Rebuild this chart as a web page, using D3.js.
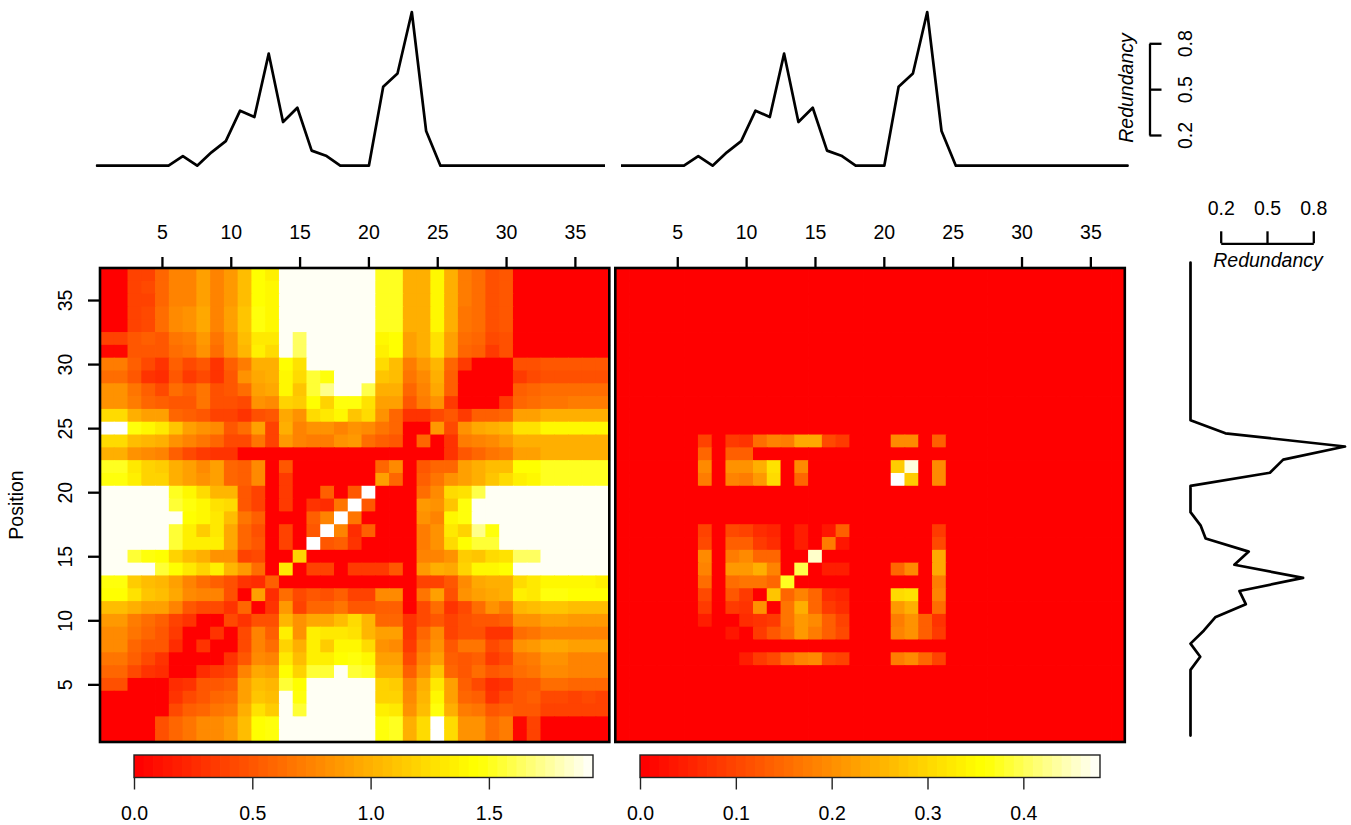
<!DOCTYPE html>
<html>
<head>
<meta charset="utf-8">
<script src="https://cdn.jsdelivr.net/npm/d3@7"></script>
<style>
  body { margin: 0; background: #fff; }
  text { font-family: "Liberation Sans", Arial, sans-serif; fill: #000; }
</style>
</head>
<body>
<div id="chart"></div>
<script>
const P = 1.98; // top of the colour range, the pale plateaus
const W = 2.1;  // above the range, left white

// left map, symmetric: rows 37 down to 1, columns 1..row
const leftRows = [
  [0,0,.40,.40,.62,.76,.76,.93,.76,.90,1.12,1.48,1.40,P,P,P,P,P,P,P,1.55,1.55,1.02,1.02,1.45,1.02,.72,.65,.47,.50,0,0,0,0,0,0,0],
  [0,0,.40,.42,.62,.76,.78,.95,.76,.90,1.12,1.48,1.42,P,P,P,P,P,P,P,1.55,1.55,1.02,1.02,1.45,1.02,.72,.65,.47,.50,0,0,0,0,0,0],
  [0,0,.38,.40,.62,.76,.76,.93,.76,.90,1.12,1.48,1.42,P,P,P,P,P,P,P,1.55,1.55,1.02,1.02,1.45,1.02,.72,.65,.47,.50,0,0,0,0,0],
  [0,0,.38,.42,.66,.80,.85,.96,.76,.92,1.14,1.50,1.42,P,P,P,P,P,P,P,1.55,1.55,1.02,1.02,1.45,1.02,.70,.65,.47,.50,0,0,0,0],
  [0,0,.38,.42,.66,.80,.85,.96,.76,.92,1.14,1.50,1.42,P,P,P,P,P,P,P,1.55,1.55,1.02,1.02,1.45,1.02,.70,.65,.47,.50,0,0,0],
  [.38,.38,.50,.55,.50,.68,.74,.90,.68,.85,1.12,1.36,1.36,P,1.68,P,P,P,P,P,1.42,1.48,.95,1.0,1.32,.95,.66,.62,.42,.48,0,0],
  [.05,.05,.50,.50,.50,.64,.68,.87,.66,.84,1.08,1.38,1.28,P,1.68,P,P,P,P,P,1.40,1.48,.95,1.0,1.30,.95,.62,.55,.37,.48,0],
  [.72,.72,.55,.45,.33,.55,.43,.52,.33,.55,.72,1.0,1.04,1.48,1.30,P,P,P,P,P,1.25,1.10,.72,.88,1.05,.62,.35,0,0,0],
  [.66,.66,.50,.33,.26,.52,.35,.45,.30,.50,.84,.98,1.03,1.44,1.25,1.62,1.50,P,P,P,1.14,1.10,.68,.82,1.03,.58,0,0,0],
  [.84,.84,.70,.55,.43,.66,.55,.70,.47,.50,.66,.93,.98,1.42,1.15,1.60,1.75,P,P,1.66,1.0,1.0,.62,.75,.98,.58,0,0],
  [.87,.87,.72,.62,.55,.53,.52,.70,.48,.48,.43,.87,.80,1.24,1.17,1.48,1.24,1.50,1.50,1.30,.95,.92,.50,.72,.87,.35,0],
  [1.26,1.26,1.0,.95,.95,.62,.55,.50,.40,.40,.33,.48,.50,.98,.85,1.25,1.36,1.42,1.14,1.25,.84,.60,.30,.30,.43,.50],
  [W,W,1.50,1.45,1.35,1.15,.95,.87,.80,.50,.66,.95,.40,1.0,.78,.85,.85,.78,.87,.80,.68,.62,0,0,.90],
  [1.26,1.26,1.10,1.05,1.0,.85,.75,.68,.60,.43,.45,.70,.40,.90,.77,.74,.74,.87,.90,.65,.55,.50,0,.60],
  [1.0,1.0,.87,.80,.75,.55,.42,.35,.33,.30,0,0,0,0,0,0,0,0,0,0,0,0,0],
  [1.55,1.55,1.35,1.22,1.20,1.0,.95,.82,.93,.62,.55,.80,0,.50,0,0,0,0,0,0,.60,.83],
  [1.50,1.50,1.38,1.22,1.22,1.0,.95,.87,.93,.62,.55,.80,0,.35,0,0,0,0,0,0,.95],
  [P,P,P,P,P,1.58,1.45,1.25,1.08,1.06,.52,.38,0,.35,0,0,.55,0,.50,W],
  [P,P,P,P,P,1.62,1.50,1.42,1.30,1.25,.52,.40,0,.37,0,.33,.25,.70,W],
  [P,P,P,P,P,P,1.48,1.45,1.36,1.12,.70,.55,0,0,0,.55,.75,W],
  [P,P,P,P,P,1.62,1.38,1.20,1.35,.98,.60,.47,0,.38,0,.50,W],
  [P,P,P,P,P,1.62,1.38,1.38,1.38,.98,.60,.50,0,.38,0,W],
  [P,P,1.62,1.52,1.48,1.22,1.10,1.02,.87,.85,.40,.42,0,0,1.22],
  [P,P,P,P,1.60,1.48,1.35,1.22,1.40,1.05,.90,.65,0,1.35],
  [1.50,1.50,1.20,1.10,1.08,.93,.76,.64,.58,.48,.33,.25,.55],
  [1.48,1.48,1.30,1.15,1.12,.96,.82,.77,.75,.48,0,.95],
  [1.10,1.10,1.0,.95,.92,.75,.50,.45,.42,.33,.62],
  [.90,.90,.72,.65,.58,.40,.30,0,0,.42],
  [.82,.82,.68,.60,.50,.35,0,0,.33],
  [.82,.82,.62,.50,.50,.27,0,.30],
  [.68,.68,.55,.42,.32,0,0],
  [.62,.62,.42,.30,.27,0],
  [.48,.48,0,0,0],
  [0,0,0,0],
  [0,0,0],
  [0,0],
  [0]
];

// right map is nearly all zero: [row, column, value], row >= column, mirrored when drawn
const rightCells = [
  [24,7,.10],[24,9,.09],[24,10,.08],[24,11,.16],[24,12,.193],[24,13,.18],[24,14,.24],[24,15,.24],[24,16,.114],[24,17,.09],[24,21,.205],[24,22,.205],[24,24,.142],
  [23,7,.148],[23,9,.136],[23,10,.136],
  [22,7,.205],[22,9,.216],[22,10,.216],[22,11,.25],[22,12,.332],[22,14,.205],[22,21,.295],[22,22,.48],
  [21,7,.18],[21,9,.193],[21,10,.18],[21,11,.22],[21,12,.318],[21,14,.148],[21,21,.52],
  [17,7,.10],[17,9,.114],[17,10,.10],[17,11,.068],[17,12,.057],[17,14,.045],[17,16,.034],[17,17,.136],
  [16,7,.114],[16,9,.136],[16,10,.136],[16,11,.09],[16,12,.068],[16,14,.045],[16,16,.18],
  [15,7,.205],[15,9,.18],[15,10,.20],[15,11,.148],[15,12,.148],[15,15,.475],
  [14,7,.193],[14,9,.227],[14,10,.227],[14,11,.25],[14,12,.193],[14,14,.41],
  [13,7,.16],[13,9,.16],[13,10,.176],[13,11,.176],[13,12,.148],[13,13,.39],
  [12,7,.114],[12,9,.125],[12,10,.09],[12,12,.284],
  [11,7,.09],[11,9,.09],[11,10,.08],[11,11,.216],
  [10,7,.045],[10,10,.068],
  [9,9,.034]
];

// marginal curve, positions 1..37
const redundancy = [0,0,0,0,0,0,.063,0,.087,.16,.358,.317,.729,.284,.377,.098,.065,0,0,0,.514,.60,1,.226,0,0,0,0,0,0,0,0,0,0,0,0,0];

const positionTicks = [5,10,15,20,25,30,35];
const leftBarTicks = [0,0.5,1,1.5];
const rightBarTicks = [0,0.1,0.2,0.3,0.4];
const redundancyTicks = [0.2,0.5,0.8];

const width = 1351, height = 825;
const svg = d3.select("#chart").append("svg")
  .attr("width", width)
  .attr("height", height)
  .style("display", "block");

const fontSize = 19.5;
const nColors = 48;
const curveWidth = 2.7;
const tickWidth = 2.3;

// same construction as R's heat.colors
function heatColors(n) {
  const j = Math.floor(n / 4), i = n - j;
  const out = [];
  for (let k = 0; k < i; k++) out.push(d3.rgb(255, Math.round(255 * k / (i - 1)), 0).formatHex());
  for (let k = 0; k < j; k++) {
    const s = (1 - 1 / (2 * j)) - k * (1 - 1 / j) / (j - 1);
    out.push(d3.rgb(255, 255, Math.round(255 * (1 - s))).formatHex());
  }
  return out;
}
const palette = heatColors(nColors);

function fullMatrix(cells) {
  const m = d3.range(37).map(() => d3.range(37).map(() => 0));
  cells.forEach(([r, c, v]) => { m[r - 1][c - 1] = v; m[c - 1][r - 1] = v; });
  return m;
}

const leftCells = leftRows.flatMap((row, i) => row.map((v, j) => [37 - i, j + 1, v]));

const yMap = d3.scaleLinear().domain([0.5, 37.5]).range([742, 268]);

function drawMap(x0, x1, matrix, zMax) {
  const x = d3.scaleLinear().domain([0.5, 37.5]).range([x0, x1]);
  const color = d3.scaleQuantize().domain([0, zMax]).range(palette);
  const g = svg.append("g").attr("class", "map");
  // rows top to bottom so the small overlap hides the seams between cells
  const cells = matrix.flatMap((row, r) => row.map((v, c) => ({ r: r + 1, c: c + 1, v })))
    .sort((a, b) => b.r - a.r || a.c - b.c);

  g.selectAll("rect")
    .data(cells)
    .join("rect")
    .attr("x", d => x(d.c - 0.5))
    .attr("y", d => yMap(d.r + 0.5))
    .attr("width", x(2) - x(1) + 0.8)
    .attr("height", yMap(1) - yMap(2) + 0.8)
    .attr("fill", d => d.v > zMax ? "#fff" : color(d.v));

  g.append("rect")
    .attr("x", x0).attr("y", yMap(37.5))
    .attr("width", x1 - x0).attr("height", yMap(0.5) - yMap(37.5))
    .attr("fill", "none").attr("stroke", "#000").attr("stroke-width", 2.6);

  const top = svg.append("g")
    .attr("transform", `translate(0,${yMap(37.5)})`)
    .call(d3.axisTop(x).tickValues(positionTicks).tickSize(11).tickPadding(18));
  top.select(".domain").remove();
  top.selectAll("line").attr("stroke", "#000").attr("stroke-width", tickWidth);
  top.selectAll("text").attr("font-size", fontSize).attr("font-family", null);
  return x;
}

drawMap(100, 609.3, fullMatrix(leftCells), 2.0);
drawMap(615.3, 1124.8, fullMatrix(rightCells), 0.5);

// y axis only on the left map
const yAxis = svg.append("g")
  .attr("transform", "translate(100,0)")
  .call(d3.axisLeft(yMap).tickValues(positionTicks).tickSize(12));
yAxis.select(".domain").remove();
yAxis.selectAll("line").attr("stroke", "#000").attr("stroke-width", tickWidth);
yAxis.selectAll("text")
  .attr("font-size", fontSize).attr("font-family", null)
  .attr("text-anchor", "middle").attr("dy", null)
  .attr("x", null).attr("y", null)
  .attr("transform", "translate(-28,0) rotate(-90)");

svg.append("text")
  .attr("transform", "translate(23,505) rotate(-90)")
  .attr("text-anchor", "middle")
  .attr("font-size", fontSize)
  .text("Position");

// colour bars under the maps
function drawBar(x0, x1, zMax, ticks, fmt) {
  const x = d3.scaleLinear().domain([0, zMax]).range([x0, x1]);
  const step = d3.scaleBand().domain(d3.range(nColors)).range([x0, x1]);
  const g = svg.append("g");
  g.selectAll("rect")
    .data(palette)
    .join("rect")
    .attr("x", (d, i) => step(i))
    .attr("y", 755)
    .attr("width", (d, i) => step.bandwidth() + (i < nColors - 1 ? 0.8 : 0))
    .attr("height", 22.5)
    .attr("fill", d => d);
  g.append("rect")
    .attr("x", x0).attr("y", 755).attr("width", x1 - x0).attr("height", 22.5)
    .attr("fill", "none").attr("stroke", "#222").attr("stroke-width", 1.4);
  const axis = svg.append("g")
    .attr("transform", "translate(0,777.5)")
    .call(d3.axisBottom(x).tickValues(ticks).tickFormat(fmt).tickSize(12).tickPadding(17));
  axis.select(".domain").remove();
  axis.selectAll("line").attr("stroke", "#222").attr("stroke-width", 1.4);
  axis.selectAll("text").attr("font-size", fontSize).attr("font-family", null);
}
drawBar(134, 593, 1.94, leftBarTicks, d3.format(".1f"));
drawBar(640, 1100, 0.48, rightBarTicks, d3.format(".1f"));

// top curves: vertices run past the frame on one side, so each is clipped to its span
const yTop = d3.scaleLinear().domain([0, 1]).range([165.7, 12]);
function drawTopCurve(id, xStart, clipL, clipR) {
  const x = d3.scaleLinear().domain([1, 37]).range([xStart, xStart + 36 * 14.31]);
  svg.append("clipPath").attr("id", id)
    .append("rect").attr("x", clipL).attr("y", 0).attr("width", clipR - clipL).attr("height", 200);
  svg.append("path")
    .datum(redundancy)
    .attr("clip-path", `url(#${id})`)
    .attr("fill", "none").attr("stroke", "#000").attr("stroke-width", curveWidth)
    .attr("stroke-linejoin", "round").attr("stroke-linecap", "round")
    .attr("d", d3.line().x((d, i) => x(i + 1)).y(d => yTop(d)));
}
drawTopCurve("clipA", 97, 95.5, 605);
drawTopCurve("clipB", 612.4, 621, 1130);

// right curve
const xSide = d3.scaleLinear().domain([0, 1]).range([1190.5, 1345]);
const ySide = d3.scaleLinear().domain([1, 37]).range([735.6, 262.5]);
svg.append("path")
  .datum(redundancy)
  .attr("fill", "none").attr("stroke", "#000").attr("stroke-width", curveWidth)
  .attr("stroke-linejoin", "round").attr("stroke-linecap", "round")
  .attr("d", d3.line().x(d => xSide(d)).y((d, i) => ySide(i + 1)));

// redundancy axes, top right
const yRed = d3.scaleLinear().domain([0.2, 0.8]).range([135, 43.3]);
const redAxisV = svg.append("g")
  .attr("transform", "translate(1149.5,0)")
  .call(d3.axisRight(yRed).tickValues(redundancyTicks).tickFormat(d3.format(".1f")).tickSize(12).tickSizeOuter(0));
redAxisV.select(".domain").attr("stroke", "#000").attr("stroke-width", tickWidth);
redAxisV.selectAll("line").attr("stroke", "#000").attr("stroke-width", tickWidth);
redAxisV.selectAll("text")
  .attr("font-size", fontSize).attr("font-family", null)
  .attr("text-anchor", "middle").attr("dy", null).attr("x", null)
  .attr("transform", "translate(42.5,0) rotate(-90)");

svg.append("text")
  .attr("transform", "translate(1133,88) rotate(-90)")
  .attr("text-anchor", "middle")
  .attr("font-size", fontSize).attr("font-style", "italic")
  .text("Redundancy");

const xRed = d3.scaleLinear().domain([0.2, 0.8]).range([1220.7, 1313.3]);
const redAxisH = svg.append("g")
  .attr("transform", "translate(0,243.3)")
  .call(d3.axisTop(xRed).tickValues(redundancyTicks).tickFormat(d3.format(".1f")).tickSize(12).tickSizeOuter(0).tickPadding(16));
redAxisH.select(".domain").attr("stroke", "#000").attr("stroke-width", tickWidth);
redAxisH.selectAll("line").attr("stroke", "#000").attr("stroke-width", tickWidth);
redAxisH.selectAll("text").attr("font-size", fontSize).attr("font-family", null);

svg.append("text")
  .attr("x", 1268).attr("y", 267)
  .attr("text-anchor", "middle")
  .attr("font-size", fontSize).attr("font-style", "italic")
  .text("Redundancy");
</script>
</body>
</html>
